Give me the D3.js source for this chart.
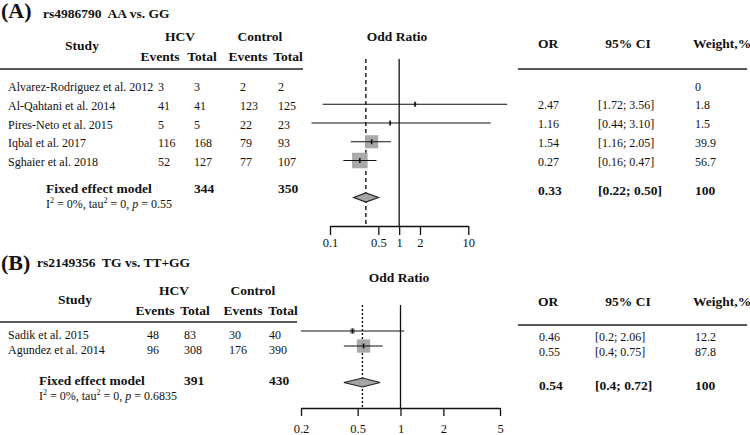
<!DOCTYPE html>
<html><head><meta charset="utf-8">
<script src="https://cdn.jsdelivr.net/npm/d3@7"></script>
<style>
body{margin:0;background:#fff;}
svg text{font-family:"Liberation Serif","Times New Roman",serif;fill:#111;}
</style></head><body>
<svg id="c" width="750" height="435"></svg>
<script>
// ---------- Panel A data ----------
const studiesA = ["Alvarez-Rodriguez et al. 2012","Al-Qahtani et al. 2014","Pires-Neto et al. 2015","Iqbal et al. 2017","Sghaier et al. 2018"];
const hcvEventsA = ["3","41","5","116","52"];
const hcvTotalA = ["3","41","5","168","127"];
const ctrlEventsA = ["2","123","22","79","77"];
const ctrlTotalA = ["2","125","23","93","107"];
const orTextA = ["","2.47","1.16","1.54","0.27"];
const ciTextA = ["","[1.72; 3.56]","[0.44; 3.10]","[1.16; 2.05]","[0.16; 0.47]"];
const weightTextA = ["0","1.8","1.5","39.9","56.7"];
// plotted estimates as drawn in the figure
const orPlotA = [null,1.70,0.74,0.40,0.27];
const ciLowA = [null,0.078,0.054,0.20,0.156];
const ciHighA = [null,36.7,21.1,0.76,0.47];
const weightA = [0,1.8,1.5,39.9,56.7];
const pooledA = {or:0.33, lo:0.22, hi:0.50, orText:"0.33", ciText:"[0.22; 0.50]", wText:"100", hcvTotal:"344", ctrlTotal:"350", het:"0.55"};
const ticksA = [0.1,0.5,1,2,10];

// ---------- Panel B data ----------
const studiesB = ["Sadik et al. 2015","Agundez et al. 2014"];
const hcvEventsB = ["48","96"];
const hcvTotalB = ["83","308"];
const ctrlEventsB = ["30","176"];
const ctrlTotalB = ["40","390"];
const orTextB = ["0.46","0.55"];
const ciTextB = ["[0.2; 2.06]","[0.4; 0.75]"];
const weightTextB = ["12.2","87.8"];
const orPlotB = [0.46,0.55];
const ciLowB = [0.2,0.4];
const ciHighB = [1.06,0.75];
const weightB = [12.2,87.8];
const pooledB = {or:0.54, lo:0.4, hi:0.72, orText:"0.54", ciText:"[0.4; 0.72]", wText:"100", hcvTotal:"391", ctrlTotal:"430", het:"0.6835"};
const ticksB = [0.2,0.5,1,2,5];

const svg = d3.select("#c");

function txt(x,y,s,o={}){
  const t = svg.append("text").attr("x",x).attr("y",y).attr("dominant-baseline","central")
    .attr("font-size",o.size||12).attr("text-anchor",o.anchor||"start").text(s);
  if(o.bold) t.attr("font-weight","bold");
  if(o.pre) t.attr("xml:space","preserve").style("white-space","pre");
  return t;
}
function het(x,y,p){
  const t = svg.append("text").attr("x",x).attr("y",y).attr("dominant-baseline","central").attr("font-size",12);
  t.append("tspan").text("I");
  t.append("tspan").attr("font-size",8).attr("dy",-4).text("2");
  t.append("tspan").attr("dy",4).text(" = 0%, tau");
  t.append("tspan").attr("font-size",8).attr("dy",-4).text("2");
  t.append("tspan").attr("dy",4).text(" = 0, ");
  t.append("tspan").attr("font-style","italic").text("p");
  t.append("tspan").text(" = " + p);
}
function hline(x1,x2,y,w){
  svg.append("line").attr("x1",x1).attr("x2",x2).attr("y1",y).attr("y2",y).attr("stroke","#222").attr("stroke-width",w||1.3);
}

function panel(cfg){
  svg.append("text").attr("x",1).attr("y",cfg.labelY).attr("font-family","'Liberation Sans',Arial,sans-serif")
    .attr("font-weight","bold").attr("font-size",22).style("fill","#111").text(cfg.label);
  txt(cfg.titleX,cfg.titleY,cfg.title,{bold:true,size:13.5,pre:true});
  const H = cfg.head;
  txt(H.study,H.yStudy,"Study",{bold:true,size:13.5,anchor:"middle"});
  txt(H.hcv,H.y1,"HCV",{bold:true,size:13.5,anchor:"middle"});
  txt(H.ctrl,H.y1,"Control",{bold:true,size:13.5,anchor:"middle"});
  H.sub.forEach((x,i)=>txt(x,H.y2,i%2?"Total":"Events",{bold:true,size:13.5,anchor:"middle"}));
  hline(0,H.lineX2,H.lineY);
  txt(cfg.plotHeadX,cfg.plotHeadY,"Odd Ratio",{bold:true,size:13.5,anchor:"middle"});
  txt(548,cfg.rHeadY,"OR",{bold:true,size:13.5,anchor:"middle"});
  txt(628,cfg.rHeadY,"95% CI",{bold:true,size:13.5,anchor:"middle"});
  txt(693,cfg.rHeadY,"Weight,%",{bold:true,size:13.5});
  hline(518,747,cfg.rLineY);

  const n = cfg.studies.length;
  const yRow = d3.scaleLinear().domain([0,Math.max(n-1,1)]).range(cfg.rowRange);
  const C = cfg.cols;
  cfg.studies.forEach((s,i)=>{
    const y = yRow(i)+cfg.leftOff;
    txt(8,y,s);
    txt(C[0],y,cfg.hE[i]); txt(C[1],y,cfg.hT[i]); txt(C[2],y,cfg.cE[i]); txt(C[3],y,cfg.cT[i]);
    const yr = yRow(i)+cfg.rightOff;
    txt(cfg.rCols[0],yr,cfg.orT[i]); txt(cfg.rCols[1],yr,cfg.ciT[i]); txt(cfg.rCols[2],yr,cfg.wT[i]);
  });
  const P = cfg.pooled;
  txt(cfg.fixedX,cfg.fixedY,"Fixed effect model",{bold:true,size:13.5});
  txt(C[1],cfg.fixedY,P.hcvTotal,{bold:true,size:13.5});
  txt(C[3],cfg.fixedY,P.ctrlTotal,{bold:true,size:13.5});
  het(cfg.fixedX,cfg.hetY,P.het);
  txt(cfg.rCols[0],cfg.rFixedY,P.orText,{bold:true,size:13.5});
  txt(cfg.rCols[1],cfg.rFixedY,P.ciText,{bold:true,size:13.5});
  txt(cfg.rCols[2],cfg.rFixedY,P.wText,{bold:true,size:13.5});

  const x = d3.scaleLog().domain(d3.extent(cfg.ticks)).range(cfg.xRange);
  svg.append("line").attr("x1",x(1)).attr("x2",x(1)).attr("y1",cfg.vTop).attr("y2",cfg.axisY)
    .attr("stroke","#111").attr("stroke-width",1.3);
  svg.append("line").attr("x1",x(P.or)).attr("x2",x(P.or)).attr("y1",cfg.vTop).attr("y2",cfg.axisY)
    .attr("stroke","#111").attr("stroke-width",1.4).attr("stroke-dasharray",cfg.dash);
  cfg.orP.forEach((v,i)=>{
    if(v==null) return;
    const y = yRow(i)+cfg.plotOff;
    const s = cfg.sqK*Math.sqrt(cfg.w[i]);
    svg.append("rect").attr("x",x(v)-s/2).attr("y",y-s/2).attr("width",s).attr("height",s).attr("fill","#a9a9a9");
    svg.append("line").attr("x1",x(cfg.lo[i])).attr("x2",x(cfg.hi[i])).attr("y1",y).attr("y2",y)
      .attr("stroke","#111").attr("stroke-width",1.2);
    svg.append("line").attr("x1",x(v)).attr("x2",x(v)).attr("y1",y-2.5).attr("y2",y+2.5)
      .attr("stroke","#111").attr("stroke-width",1.6);
  });
  const dy = cfg.diamondY, h = 4.5;
  svg.append("path").attr("d",`M${x(P.lo)},${dy}L${x(P.or)},${dy-h}L${x(P.hi)},${dy}L${x(P.or)},${dy+h}Z`)
    .attr("fill","#a5a5a5").attr("stroke","#222").attr("stroke-width",1.2);
  const ax = svg.append("g").attr("transform",`translate(0,${cfg.axisY})`)
    .call(d3.axisBottom(x).tickValues(cfg.ticks).tickFormat(d=>String(d)).tickSize(cfg.tickLen).tickSizeOuter(0).tickPadding(cfg.tickPad));
  ax.select(".domain").attr("stroke","#111").attr("stroke-width",1.3);
  ax.selectAll(".tick line").attr("stroke","#111").attr("stroke-width",1.3);
  ax.selectAll(".tick text").attr("font-family","'Liberation Serif','Times New Roman',serif").attr("font-size",12.5).style("fill","#111");
}

panel({
  label:"(A)", labelY:18, title:"rs4986790  AA vs. GG", titleX:43, titleY:13,
  head:{study:82,yStudy:45,hcv:180,ctrl:260,y1:36,sub:[160,202,248,288],y2:56,lineX2:303,lineY:69},
  plotHeadX:397, plotHeadY:36, rHeadY:43, rLineY:69,
  studies:studiesA, hE:hcvEventsA, hT:hcvTotalA, cE:ctrlEventsA, cT:ctrlTotalA,
  orT:orTextA, ciT:ciTextA, wT:weightTextA,
  rowRange:[87,162], leftOff:0, rightOff:-0.5, plotOff:-1.5,
  cols:[158,194,240,278], rCols:[538,598,695],
  pooled:pooledA, fixedX:46, fixedY:188.5, hetY:204, rFixedY:190,
  ticks:ticksA, xRange:[330,468.3], vTop:59, axisY:226, dash:"4,3",
  orP:orPlotA, lo:ciLowA, hi:ciHighA, w:weightA, sqK:2.06, diamondY:197.5, tickLen:9, tickPad:3
});
panel({
  label:"(B)", labelY:270, title:"rs2149356  TG vs. TT+GG", titleX:37, titleY:262,
  head:{study:75,yStudy:299,hcv:174,ctrl:253,y1:290,sub:[155,195,243,283],y2:310,lineX2:297,lineY:322},
  plotHeadX:399, plotHeadY:277, rHeadY:301, rLineY:325,
  studies:studiesB, hE:hcvEventsB, hT:hcvTotalB, cE:ctrlEventsB, cT:ctrlTotalB,
  orT:orTextB, ciT:ciTextB, wT:weightTextB,
  rowRange:[335,350], leftOff:0, rightOff:2, plotOff:-4,
  cols:[147,184,229,269], rCols:[539,595,695],
  pooled:pooledB, fixedX:39, fixedY:380.5, hetY:396, rFixedY:385,
  ticks:ticksB, xRange:[301,500], vTop:305, axisY:408, dash:"2,2",
  orP:orPlotB, lo:ciLowB, hi:ciHighB, w:weightB, sqK:1.42, diamondY:382.5, tickLen:8, tickPad:8
});
</script></body></html>
